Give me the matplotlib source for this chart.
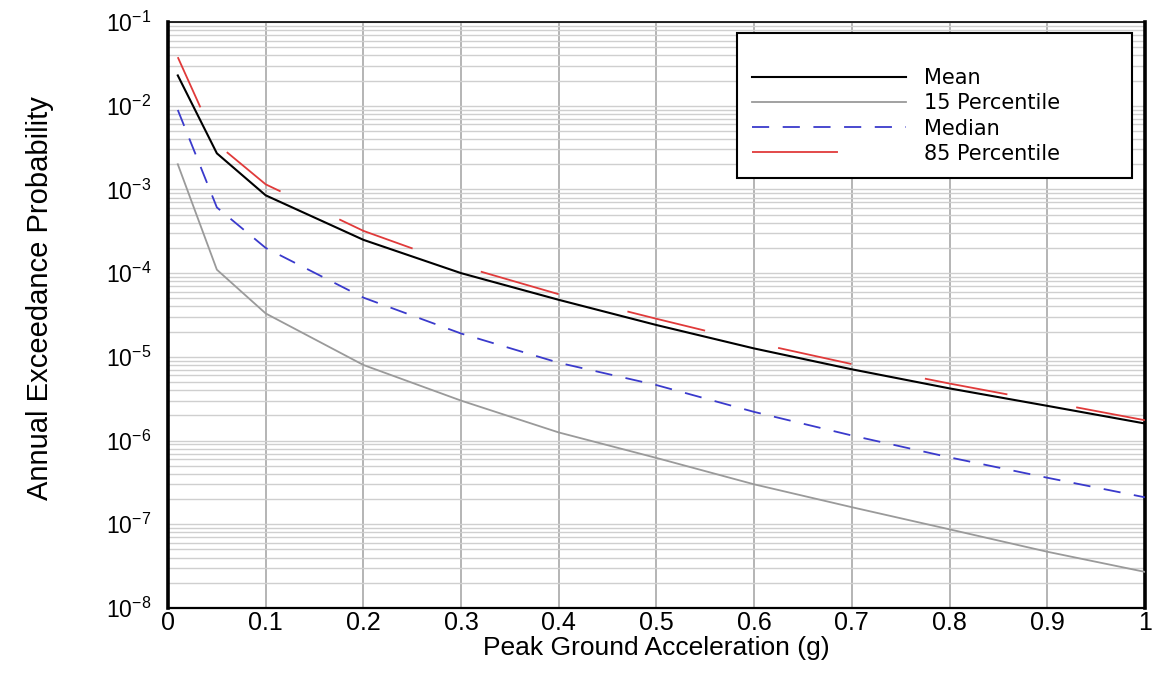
import numpy as np
import matplotlib
matplotlib.use("Agg")
import matplotlib.pyplot as plt
from matplotlib.lines import Line2D
from matplotlib.patches import Rectangle
from matplotlib.ticker import LogLocator, FixedLocator, NullFormatter, FuncFormatter

plt.rcParams['font.family'] = ['Liberation Sans', 'DejaVu Sans']
plt.rcParams['mathtext.fontset'] = 'dejavusans'

# hazard curves
pga = [0.01, 0.05, 0.1, 0.2, 0.3, 0.4, 0.5, 0.6, 0.7, 0.8, 0.9, 1.0]
mean_p = [2.3e-2, 2.7e-3, 8.5e-4, 2.5e-4, 1.0e-4, 4.8e-5, 2.4e-5, 1.26e-5,
          7.1e-6, 4.2e-6, 2.6e-6, 1.6e-6]
p15 = [2.0e-3, 1.1e-4, 3.3e-5, 8.0e-6, 3.0e-6, 1.25e-6, 6.2e-7, 3.0e-7,
       1.6e-7, 8.7e-8, 4.7e-8, 2.7e-8]
median_p = [8.9e-3, 6.1e-4, 2.0e-4, 5.1e-5, 1.9e-5, 8.5e-6, 4.6e-6, 2.2e-6,
            1.15e-6, 6.3e-7, 3.6e-7, 2.1e-7]
p85 = [3.8e-2, 3.5e-3, 1.15e-3, 3.2e-4, 1.22e-4, 5.6e-5, 2.85e-5, 1.48e-5,
       8.2e-6, 4.8e-6, 2.9e-6, 1.75e-6]

xticks = [0, 0.1, 0.2, 0.3, 0.4, 0.5, 0.6, 0.7, 0.8, 0.9, 1]
xticklabels = ['0', '0.1', '0.2', '0.3', '0.4', '0.5', '0.6', '0.7', '0.8', '0.9', '1']
yexps = [-8, -7, -6, -5, -4, -3, -2, -1]

# long-dash pattern of the 85th percentile line, in pixels along the curve
red_dash_px = [55, 53, 67, 65, 79, 72, 81, 71, 80, 75, 75, 75, 84, 70, 80, 100]
red_lw = 1.3
red_dash = [d * 0.72 / red_lw for d in red_dash_px]

fig = plt.figure(figsize=(11.54, 6.88), dpi=100)
ax = fig.add_axes([0.1456, 0.1163, 0.8465, 0.8517])

ax.set_yscale('log')
ax.set_xlim(0, 1)
ax.set_ylim(1e-8, 1e-1)

# grid
ax.yaxis.set_major_locator(FixedLocator([10.0 ** e for e in yexps]))
ax.yaxis.set_minor_locator(LogLocator(base=10, subs=np.arange(2, 10), numticks=20))
ax.yaxis.set_minor_formatter(NullFormatter())
ax.yaxis.set_major_formatter(FuncFormatter(lambda v, p: r'$\mathregular{10^{%d}}$' % round(np.log10(v))))
ax.xaxis.set_major_locator(FixedLocator(xticks))
ax.set_xticklabels(xticklabels)
ax.grid(True, which='major', axis='x', color='#b4b4b4', lw=1.4)
ax.grid(True, which='both', axis='y', color='#cfcfcf', lw=1.0)
ax.set_axisbelow(True)

ax.plot(pga, mean_p, color='black', lw=1.5, zorder=4)
ax.plot(pga, p15, color='#9a9a9a', lw=1.3, zorder=3)
ax.plot(pga, median_p, color='#3a3acc', lw=1.3, dashes=(9.5, 7.5), zorder=3)
ax.plot(pga, p85, color='#e03a3a', lw=red_lw, ls=(0, red_dash), zorder=3)

ax.tick_params(axis='both', which='both', direction='in', length=0)
ax.tick_params(axis='x', labelsize=18, pad=2)
ax.tick_params(axis='y', which='major', labelsize=16.5, pad=12)

for side in ['left', 'right']:
    ax.spines[side].set_linewidth(2.6)
ax.spines['top'].set_linewidth(1.2)
ax.spines['bottom'].set_linewidth(1.6)

ax.set_xlabel('Peak Ground Acceleration (g)', fontsize=19, labelpad=1)
ax.set_ylabel('Annual Exceedance Probability', fontsize=21)
ax.yaxis.set_label_coords(-0.117, 0.529)

# legend: own frame box, entries placed inside it
ax.add_patch(Rectangle((0.582, 0.734), 0.405, 0.247, transform=ax.transAxes,
                       facecolor='white', edgecolor='black', lw=1.5, zorder=5))
handles = [
    Line2D([], [], color='black', lw=1.5),
    Line2D([], [], color='#9a9a9a', lw=1.3),
    Line2D([], [], color='#3a3acc', lw=1.3, dashes=(9.5, 7.5)),
    Line2D([], [], color='#e03a3a', lw=1.3, dashes=(47.6, 60)),
]
labels = ['Mean', '15 Percentile', 'Median', '85 Percentile']
leg = ax.legend(handles, labels, loc='upper left', bbox_to_anchor=(0.598, 0.921),
                prop={'family': 'DejaVu Sans', 'size': 15}, handlelength=7.4,
                handletextpad=0.85, labelspacing=0.245, borderpad=0, borderaxespad=0,
                frameon=False)
leg.set_zorder(6)

fig.savefig('out.png', dpi=100)
